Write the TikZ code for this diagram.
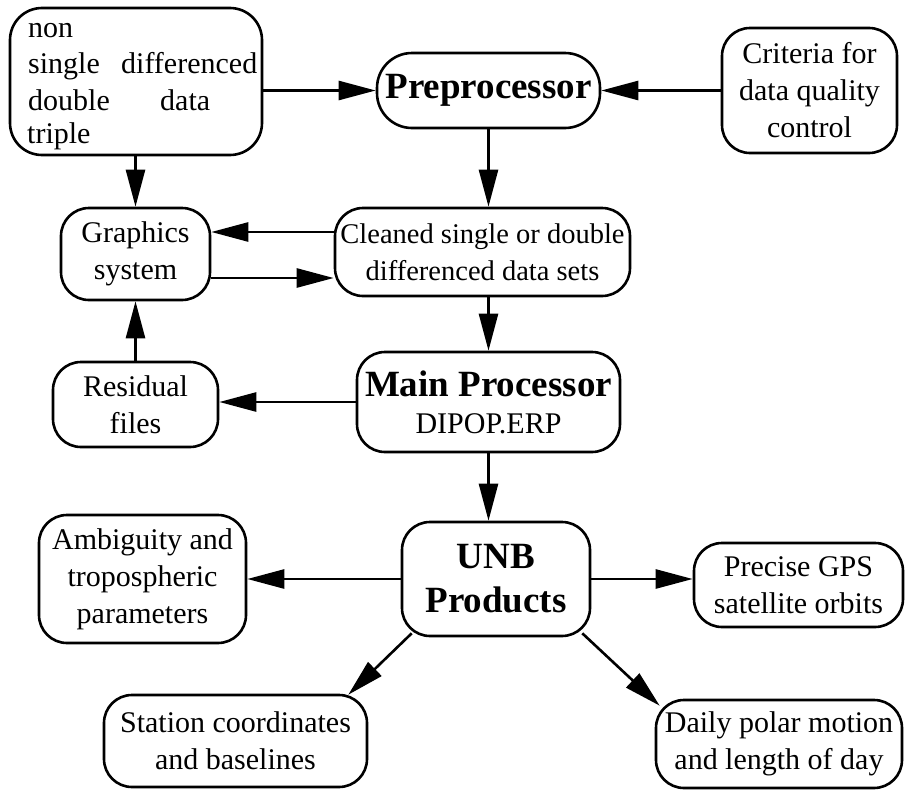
\documentclass[tikz,border=0pt]{standalone}
\usepackage{fontspec}
\setmainfont{Liberation Serif}
\usetikzlibrary{arrows.meta,calc}
\newcommand\txtfont{\fontsize{30}{37}\selectfont}
\newcommand\smtxt{\fontsize{28.5}{37}\selectfont}
\newcommand\bigtxt{\bfseries\fontsize{37}{44}\selectfont}
\begin{document}
\begin{tikzpicture}[x=1pt,y=-1pt,
  box/.style={draw,line width=2.6pt,rounded corners=28pt,inner sep=0pt,align=center,font=\txtfont},
  arr/.style={line width=2.6pt,-{Triangle[length=37pt,width=19pt]}},
  lbl/.style={inner sep=0pt,anchor=base west,font=\txtfont}]
\useasboundingbox (0,0) rectangle (906,790);
% boxes
\node[box,minimum width=252pt,minimum height=147pt,rounded corners=32pt] (data) at (136,81.5) {};
\node[lbl] (t1) at (28,37) {non};
\node[lbl] (t2) at (28,73) {single};
\node[lbl] (t3) at (121,73) {differenced};
\node[lbl] (t4) at (28,110) {double};
\node[lbl] (t5) at (160,110) {data};
\node[lbl] (t6) at (27,143) {triple};
\node[box,minimum width=223pt,minimum height=75pt,rounded corners=35pt,font=\bigtxt] (pre) at (488.5,90.5) {Preprocessor};
\node[box,minimum width=175pt,minimum height=125pt] (crit) at (809.5,90.5) {Criteria for\\data quality\\control};
\node[box,minimum width=149pt,minimum height=92pt] (gra) at (135.5,254) {Graphics\\system};
\node[box,minimum width=295pt,minimum height=88pt,font=\smtxt] (clean) at (482.5,252) {Cleaned single or double\\differenced data sets};
\node[box,minimum width=165pt,minimum height=85pt] (res) at (135.5,404.5) {Residual\\files};
\node[box,minimum width=263pt,minimum height=100pt] (main) at (488.5,402) {{\bigtxt Main Processor}\\DIPOP.ERP};
\node[box,minimum width=188pt,minimum height=114pt,font=\bigtxt] (unb) at (496,579) {UNB\\Products};
\node[box,minimum width=207pt,minimum height=128pt] (amb) at (142.5,579) {Ambiguity and\\tropospheric\\parameters};
\node[box,minimum width=209pt,minimum height=84pt] (pgs) at (798.5,585) {Precise GPS\\satellite orbits};
\node[box,minimum width=263pt,minimum height=92pt] (stat) at (235.5,741) {Station coordinates\\and baselines};
\node[box,minimum width=246pt,minimum height=88pt] (daily) at (779,744) {Daily polar motion\\and length of day};
% connectors
\draw[arr] (data.east |- pre.west) -- (pre.west);
\draw[arr] (crit.west |- pre.east) -- (pre.east);
\draw[arr] (pre.south) -- (pre.south |- clean.north);
\draw[arr] (data.south -| gra.north) -- (gra.north);
\draw[arr] ([yshift=20pt]clean.west) -- ([yshift=20pt]clean.west -| gra.east);
\draw[arr] ([yshift=-24pt]gra.east) -- ([yshift=-24pt]gra.east -| clean.west);
\draw[arr] (res.north) -- (gra.south);
\draw[arr] (main.west) -- (main.west -| res.east);
\draw[arr] (main.north |- clean.south) -- (main.north);
\draw[arr] (main.south) -- (main.south |- unb.north);
\draw[arr] (unb.west) -- (unb.west -| amb.east);
\draw[arr] (unb.east) -- (unb.east -| pgs.west);
\draw[arr] ([xshift=11pt,yshift=4pt]unb.south west) -- ([xshift=-20pt,yshift=-1pt]stat.north east);
\draw[arr] ([xshift=-9pt,yshift=4pt]unb.south east) -- ([xshift=5pt,yshift=-7pt]daily.north west);
\end{tikzpicture}
\end{document}
